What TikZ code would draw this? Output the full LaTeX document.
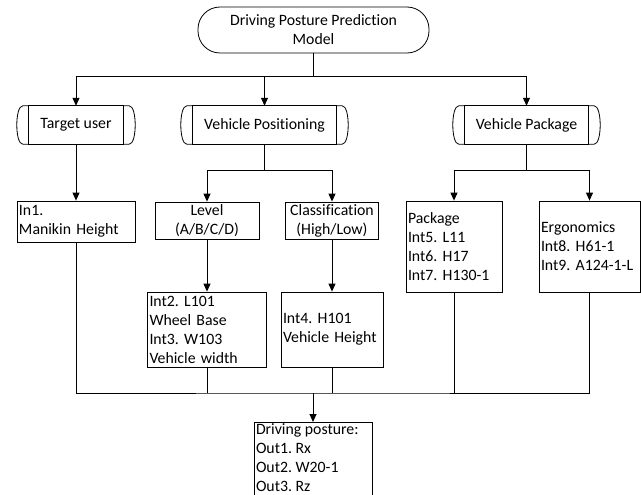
\documentclass[tikz,border=0pt]{standalone}
\usepackage{fontspec}
\setmainfont{Carlito}[Ligatures=NoCommon]
\usetikzlibrary{arrows.meta,calc}
\frenchspacing
\begin{document}
\begin{tikzpicture}[x=1pt,y=-1pt,
  every node/.style={font=\fontsize{15.8}{19}\selectfont},
  box/.style={draw, line width=0.8pt, inner xsep=2pt, inner ysep=1pt, align=left},
  cbox/.style={draw, line width=0.8pt, inner sep=1pt, align=center},
  proc/.style={inner sep=0pt, align=center},
  shapeline/.style={line width=0.8pt},
  conn/.style={line width=1pt},
  arr/.style={conn, -{Triangle[length=8pt,width=7pt]}}]
\useasboundingbox (0,0) rectangle (641,495);
\clip (0,0) rectangle (641,495);

% top
\node[draw, line width=0.8pt, rounded corners=22pt, minimum width=231pt, minimum height=46pt, align=center] (top) at (313.5,30) {Driving Posture Prediction\\Model};

% second row
\node[proc, minimum width=94pt, minimum height=38pt] (tu) at (76,125) {Target user};
\node[proc, minimum width=143pt, minimum height=38pt] (pos) at (264.5,125) {Vehicle Positioning};
\node[proc, minimum width=123pt, minimum height=38pt] (pkg) at (526.5,125) {Vehicle Package};
\foreach \n in {tu,pos,pkg}{
  \draw[shapeline] (\n.north west) rectangle (\n.south east);
  \draw[shapeline] (\n.north west) -- ++(-6,0) .. controls +(-8,0) and +(-8,0) .. ($(\n.south west)+(-6,0)$) -- (\n.south west);
  \draw[shapeline] (\n.north east) -- ++(6,0) .. controls +(8,0) and +(8,0) .. ($(\n.south east)+(6,0)$) -- (\n.south east);
}

% third row
\node[box, minimum height=41pt, text width=114pt] (in1) at (76,221.5) {In1.\\Manikin Height};
\node[cbox, minimum width=104pt, minimum height=37pt] (lvl) at (207,220.5) {Level\\(A/B/C/D)};
\node[cbox, minimum width=93pt, minimum height=37pt] (cls) at (332,220.5) {Classification\\(High/Low)};
\node[box, minimum height=91pt, text width=92pt] (pack) at (454,246.5) {Package\\Int5. L11\\Int6. H17\\Int7. H130-1};
\node[box, minimum height=91pt, text width=97pt] (ergo) at (589.5,246.5) {Ergonomics\\Int8. H61-1\\Int9. A124-1-L};

% fourth row
\node[box, minimum height=75pt, text width=115pt] (int2) at (207,329.5) {Int2. L101\\Wheel Base\\Int3. W103\\Vehicle width};
\node[box, minimum height=75pt, text width=98pt] (int4) at (332,329.5) {Int4. H101\\Vehicle Height};

% output
\node[draw, line width=0.8pt, anchor=north, inner xsep=2pt, inner ysep=1pt] (out) at (313,422)
  {\parbox[t][100pt][t]{114pt}{\raggedright Driving posture:\\Out1. Rx\\Out2. W20-1\\Out3. Rz}};

% connectors
\coordinate (j1) at (313.5,77);
\draw[conn] (top) -- (j1);
\draw[arr] (j1) -| (tu);
\draw[arr] (j1) -| (pos);
\draw[arr] (j1) -| (pkg);

\coordinate (j2) at (264.5,171);
\draw[conn] (pos) -- (j2);
\draw[arr] (j2) -| (lvl);
\draw[arr] (j2) -| (cls);

\coordinate (j3) at (526.5,171);
\draw[conn] (pkg) -- (j3);
\draw[arr] (j3) -| (pack);
\draw[arr] (j3) -| (ergo);

\draw[arr] (tu) -- (in1);
\draw[arr] (lvl) -- (int2);
\draw[arr] (cls) -- (int4);

\coordinate (j4) at (313,393);
\draw[conn] (in1) |- (j4) -| (ergo);
\draw[conn] (int2) -- (int2 |- j4);
\draw[conn] (int4) -- (int4 |- j4);
\draw[conn] (pack) -- (pack |- j4);
\draw[arr] (j4) -- (out);
\end{tikzpicture}
\end{document}
